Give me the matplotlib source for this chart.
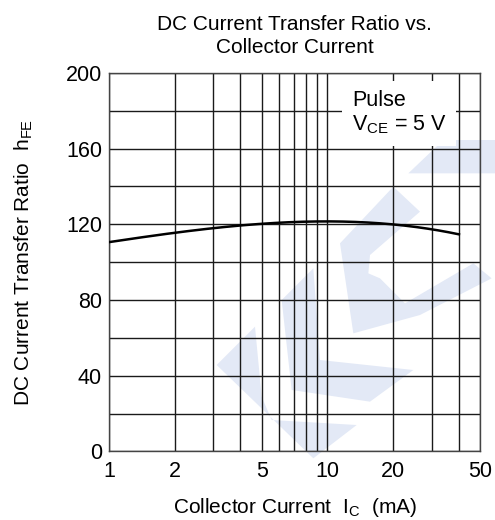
import numpy as np
import matplotlib
matplotlib.use("Agg")
from matplotlib import pyplot as plt
from matplotlib.patches import Polygon

plt.rcParams['font.family'] = ['Liberation Sans', 'DejaVu Sans']

# collector current (mA) and hFE
ic = [1, 1.5, 2, 3, 5, 7, 10, 15, 20, 30, 40]
hfe = [110.5, 113.5, 115.5, 118, 120.3, 121, 121.3, 121, 120, 117.5, 114.5]

xticks = [1, 2, 5, 10, 20, 50]
xgrid = [1, 2, 3, 4, 5, 6, 7, 8, 9, 10, 20, 30, 40, 50]
yticks = [0, 40, 80, 120, 160, 200]
ygrid = list(range(0, 201, 20))

W, H = 495, 520
fig = plt.figure(figsize=(W / 100, H / 100), dpi=100)
ax = fig.add_axes([0.220, 0.132, 0.750, 0.728])

# faint logo watermark behind the grid (rough outline, pixel coords)
logo = [
    [(110, 705), (225, 590), (245, 800), (275, 870), (530, 885), (400, 985)],
    [(305, 510), (400, 415), (420, 690), (700, 720), (570, 815), (335, 780)],
    [(480, 340), (640, 170), (720, 245), (570, 375), (565, 430), (600, 445),
     (675, 520), (880, 400), (935, 445), (720, 555), (520, 610)],
    [(685, 130), (790, 30), (945, 30), (945, 130)],
]
for pts in logo:
    fpts = [((180 + px / 3) / W, 1 - (130 + py / 3) / H) for px, py in pts]
    ax.add_patch(Polygon(fpts, closed=True, transform=fig.transFigure,
                         facecolor='#e3e9f6', edgecolor='none', zorder=0.5,
                         clip_on=False))

# smooth the curve through the read points (in log x)
lx = np.log10(ic)
coef = np.polyfit(lx, hfe, 3)
xs = np.logspace(0, np.log10(40), 200)
ax.plot(xs, np.polyval(coef, np.log10(xs)), color='black', lw=1.8, zorder=3)

ax.set_xscale('log')
ax.set_xlim(1, 50)
ax.set_ylim(0, 200)
for g in xgrid:
    ax.axvline(g, color='#1a1a1a', lw=1.0, zorder=1)
for g in ygrid:
    ax.axhline(g, color='#1a1a1a', lw=1.0, zorder=1)

ax.set_xticks(xticks)
ax.set_xticklabels([str(t) for t in xticks])
ax.xaxis.set_minor_locator(matplotlib.ticker.NullLocator())
ax.set_yticks(yticks)
ax.tick_params(length=0, labelsize=15.5, pad=5)
ax.tick_params(axis='x', pad=7)
for s in ax.spines.values():
    s.set_color('#444444')
    s.set_linewidth(1.0)

ax.set_xlabel('Collector Current  I$_\\mathregular{C}$  (mA)', fontsize=15, labelpad=10)
ax.set_ylabel('DC Current Transfer Ratio  h$_\\mathregular{FE}$', fontsize=15, labelpad=22)
ax.set_title('DC Current Transfer Ratio vs.\nCollector Current', fontsize=15, pad=14,
             linespacing=1.3)

ax.text(0.655, 0.893, 'Pulse\nV$_\\mathregular{CE}$ = 5 V', transform=ax.transAxes,
        fontsize=15.5, ha='left', va='center', linespacing=1.15, zorder=4,
        bbox=dict(boxstyle='square,pad=0.45', facecolor='white', edgecolor='none'))

fig.savefig('out.png', dpi=100)
